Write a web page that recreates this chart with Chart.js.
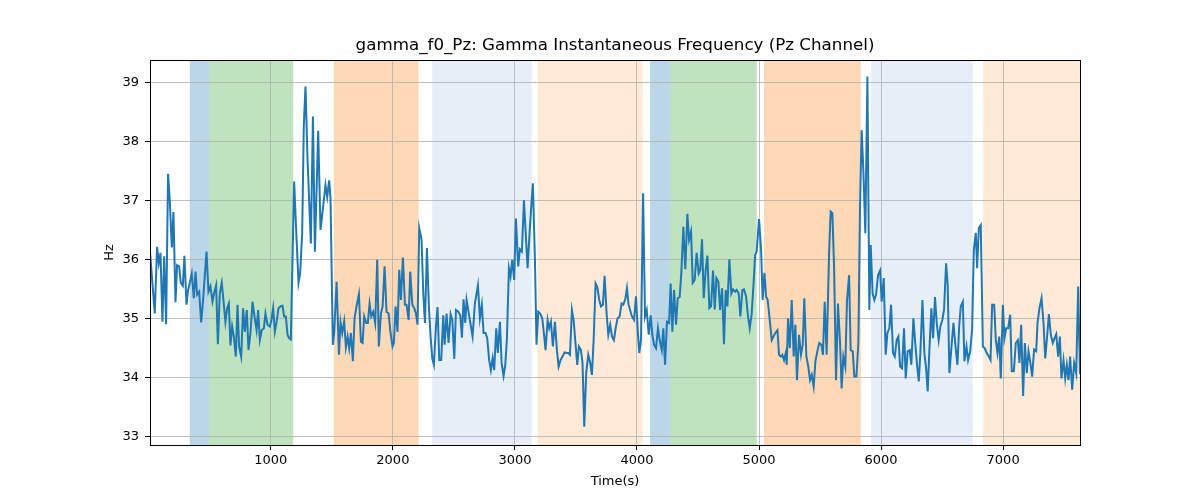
<!DOCTYPE html>
<html>
<head>
<meta charset="utf-8">
<script src="https://cdn.jsdelivr.net/npm/chart.js@4.4.0/dist/chart.umd.min.js"></script>
<style>
  html, body { margin: 0; padding: 0; background: #fff; }
  #wrap { width: 1200px; height: 500px; }
</style>
</head>
<body>
<div id="wrap"><canvas id="freqchart" width="1200" height="500"></canvas></div>
<script>
// time stamps (s) and instantaneous gamma frequency (Hz)
var timeSec = [
  10, 49, 68, 82, 96, 112, 126, 142, 158, 172, 189, 202, 219, 232, 249, 262, 279, 292, 309, 322,
  336, 352, 369, 383, 396, 413, 429, 445, 473, 489, 505, 522, 538, 552, 566, 582, 598, 615, 628, 642,
  656, 669, 683, 697, 713, 727, 740, 757, 773, 787, 803, 817, 833, 850, 866, 883, 896, 910, 926, 943,
  956, 973, 992, 1005, 1019, 1033, 1046, 1063, 1079, 1096, 1109, 1123, 1137, 1150, 1164, 1191, 1210, 1227, 1240, 1257,
  1270, 1284, 1301, 1328, 1345, 1361, 1388, 1407, 1429, 1448, 1462, 1478, 1489, 1508, 1519, 1539, 1558, 1571, 1585, 1601,
  1615, 1629, 1642, 1656, 1672, 1686, 1702, 1722, 1738, 1752, 1765, 1782, 1795, 1809, 1823, 1839, 1855, 1872, 1885, 1902,
  1916, 1932, 1948, 1965, 1981, 1997, 2008, 2022, 2038, 2052, 2066, 2082, 2099, 2112, 2129, 2142, 2159, 2175, 2189, 2202,
  2216, 2235, 2249, 2263, 2279, 2295, 2309, 2323, 2336, 2353, 2366, 2380, 2396, 2413, 2424, 2440, 2456, 2473, 2487, 2503,
  2517, 2536, 2552, 2566, 2579, 2593, 2604, 2626, 2653, 2672, 2697, 2713, 2729, 2743, 2759, 2773, 2789, 2803, 2817, 2830,
  2847, 2860, 2877, 2891, 2907, 2921, 2934, 2951, 2964, 2978, 2994, 3008, 3027, 3041, 3057, 3074, 3090, 3104, 3120, 3134,
  3147, 3164, 3177, 3191, 3207, 3224, 3237, 3251, 3268, 3281, 3295, 3311, 3328, 3344, 3358, 3374, 3390, 3407, 3423, 3437,
  3451, 3467, 3481, 3494, 3511, 3524, 3541, 3554, 3568, 3584, 3601, 3617, 3631, 3645, 3661, 3675, 3691, 3705, 3721, 3735,
  3751, 3765, 3781, 3795, 3811, 3825, 3841, 3858, 3874, 3888, 3904, 3918, 3931, 3959, 3976, 3992, 4006, 4019, 4033, 4050,
  4066, 4080, 4096, 4112, 4126, 4140, 4156, 4172, 4186, 4203, 4216, 4230, 4246, 4263, 4276, 4290, 4304, 4320, 4334, 4350,
  4364, 4380, 4396, 4413, 4427, 4443, 4457, 4473, 4489, 4506, 4519, 4533, 4547, 4563, 4577, 4593, 4607, 4623, 4637, 4651,
  4667, 4681, 4697, 4713, 4727, 4741, 4757, 4773, 4787, 4804, 4817, 4834, 4847, 4864, 4877, 4894, 4910, 4924, 4940, 4954,
  4968, 4981, 5000, 5017, 5030, 5044, 5058, 5071, 5088, 5104, 5118, 5134, 5151, 5164, 5178, 5191, 5205, 5219, 5227, 5238,
  5252, 5268, 5284, 5298, 5311, 5328, 5344, 5358, 5371, 5388, 5404, 5418, 5432, 5448, 5462, 5478, 5494, 5511, 5524, 5538,
  5554, 5574, 5587, 5601, 5615, 5631, 5647, 5664, 5677, 5691, 5707, 5721, 5738, 5751, 5768, 5781, 5798, 5814, 5828, 5841,
  5855, 5871, 5888, 5904, 5915, 5931, 5945, 5959, 5975, 5992, 6005, 6022, 6038, 6052, 6068, 6082, 6098, 6112, 6128, 6142,
  6156, 6172, 6188, 6202, 6218, 6235, 6248, 6265, 6281, 6295, 6309, 6322, 6339, 6355, 6369, 6382, 6396, 6412, 6426, 6442,
  6456, 6472, 6486, 6502, 6516, 6533, 6546, 6560, 6577, 6593, 6610, 6626, 6640, 6653, 6670, 6683, 6700, 6713, 6730, 6746,
  6760, 6776, 6787, 6801, 6817, 6834, 6850, 6866, 6883, 6897, 6910, 6927, 6940, 6954, 6968, 6981, 6998, 7011, 7025, 7041,
  7058, 7071, 7088, 7104, 7121, 7134, 7148, 7164, 7178, 7194, 7208, 7222, 7238, 7254, 7271, 7282, 7298, 7315, 7331, 7345,
  7358, 7375, 7391, 7407, 7421, 7435, 7451, 7465, 7478, 7495, 7509, 7522, 7536, 7549, 7566, 7582, 7599, 7615, 7630
];
var freqHz = [
  36.13, 35.08, 36.21, 35.93, 36.11, 34.94, 36.05, 34.90, 37.45, 37.00, 36.20, 36.80, 35.27, 35.90, 35.88, 35.60, 35.55, 36.06, 35.23, 35.48,
  35.60, 35.76, 35.34, 35.79, 35.40, 35.45, 34.93, 35.31, 36.13, 35.45, 35.54, 35.28, 35.45, 35.56, 34.56, 35.42, 35.60, 35.23, 34.94, 35.17,
  35.25, 34.54, 34.86, 34.69, 34.35, 35.23, 34.52, 34.35, 35.17, 34.77, 35.14, 34.46, 34.75, 35.28, 35.03, 34.80, 35.14, 34.63, 34.80, 34.83,
  35.08, 34.89, 34.86, 34.97, 35.17, 34.77, 34.92, 35.17, 35.20, 35.21, 35.03, 35.03, 34.72, 34.66, 34.64, 37.32, 36.38, 35.60, 35.76, 36.44,
  38.25, 38.93, 37.68, 36.27, 38.42, 36.13, 38.18, 36.50, 36.90, 37.26, 37.06, 37.34, 37.03, 34.55, 34.75, 35.62, 34.38, 34.93, 34.75, 34.95,
  34.51, 34.69, 34.49, 34.75, 34.27, 35.00, 35.20, 35.41, 34.60, 34.58, 35.03, 34.92, 34.92, 35.25, 35.03, 35.11, 34.92, 35.99, 34.52, 35.08,
  35.20, 35.88, 35.11, 35.08, 34.75, 34.52, 34.58, 35.20, 34.77, 35.82, 35.31, 36.03, 35.23, 35.23, 34.97, 35.79, 35.23, 35.17, 35.08, 34.89,
  36.53, 36.33, 35.42, 34.92, 36.19, 35.20, 34.69, 34.32, 34.21, 34.86, 35.19, 34.29, 34.29, 35.05, 34.55, 35.08, 34.58, 35.07, 34.97, 34.31,
  35.14, 35.11, 35.05, 34.67, 35.32, 34.92, 35.31, 35.03, 34.69, 35.25, 35.56, 35.00, 35.23, 34.75, 34.75, 34.66, 34.29, 34.12, 34.32, 34.12,
  34.83, 34.41, 34.94, 34.24, 34.02, 34.21, 34.63, 35.85, 35.71, 35.99, 35.65, 36.69, 35.88, 36.17, 36.13, 37.00, 36.38, 35.85, 36.44, 36.90,
  37.29, 35.99, 34.55, 35.11, 35.08, 35.00, 34.75, 34.46, 34.97, 34.83, 34.94, 34.52, 34.94, 34.46, 34.18, 34.29, 34.35, 34.42, 34.41, 34.41,
  34.38, 35.14, 34.97, 34.63, 34.21, 34.52, 34.46, 34.24, 33.16, 34.07, 34.38, 34.24, 34.04, 34.63, 35.59, 35.53, 35.31, 35.20, 35.23, 35.72,
  35.08, 34.72, 34.89, 34.69, 34.63, 34.83, 35.00, 35.03, 35.25, 35.23, 35.32, 35.51, 35.23, 35.03, 34.97, 35.37, 34.80, 34.41, 34.63, 37.12,
  35.03, 35.14, 34.72, 35.05, 34.72, 34.55, 34.49, 34.83, 34.63, 34.46, 34.83, 34.21, 34.94, 34.92, 35.59, 34.77, 35.48, 34.89, 35.34, 35.36,
  35.79, 36.55, 35.83, 36.77, 36.33, 36.47, 35.60, 35.65, 36.11, 35.76, 35.82, 36.34, 35.34, 35.82, 36.06, 35.17, 35.20, 35.81, 35.15, 35.68,
  35.62, 35.14, 35.51, 34.56, 35.48, 35.20, 36.00, 35.42, 35.49, 35.45, 35.48, 35.42, 35.03, 35.48, 35.49, 35.37, 35.03, 34.83, 35.08, 35.54,
  36.07, 36.13, 36.68, 36.16, 35.31, 35.77, 35.37, 35.31, 34.97, 34.63, 34.69, 34.75, 34.80, 34.38, 34.35, 34.38, 34.29, 34.41, 34.21, 35.00,
  34.49, 35.31, 34.35, 34.89, 33.95, 34.72, 34.38, 34.55, 35.34, 34.35, 34.18, 33.95, 34.04, 33.84, 34.27, 34.44, 34.58, 34.55, 34.38, 35.28,
  34.38, 36.10, 36.81, 36.78, 35.88, 33.95, 35.25, 34.58, 33.81, 34.35, 34.18, 35.31, 35.73, 34.46, 34.44, 34.01, 34.01, 34.58, 36.95, 38.19,
  37.51, 36.44, 39.10, 35.14, 36.24, 35.42, 35.31, 35.40, 35.73, 35.81, 35.28, 35.68, 34.38, 34.75, 34.83, 35.23, 34.41, 34.35, 34.63, 34.69,
  34.18, 34.15, 34.83, 33.98, 34.44, 34.46, 34.21, 35.00, 34.55, 34.21, 33.93, 34.41, 35.31, 34.41, 34.15, 33.76, 34.46, 35.17, 34.66, 35.36,
  34.92, 34.63, 34.86, 34.97, 35.14, 35.93, 35.56, 34.07, 34.52, 34.92, 34.52, 34.21, 34.86, 35.20, 35.28, 34.27, 34.52, 34.29, 34.44, 34.80,
  36.16, 36.45, 35.85, 36.53, 36.58, 34.52, 34.49, 34.41, 34.35, 34.29, 35.23, 35.23, 34.63, 34.41, 34.69, 33.98, 35.23, 34.66, 34.83, 34.83,
  35.06, 34.10, 34.10, 34.58, 34.63, 34.24, 34.89, 33.68, 34.58, 34.07, 34.44, 34.27, 34.01, 34.47, 34.44, 34.92, 35.17, 35.34, 34.92, 34.32,
  34.63, 35.07, 34.72, 34.58, 34.66, 34.73, 34.35, 34.69, 33.98, 34.29, 33.98, 34.21, 33.95, 34.35, 33.79, 34.24, 34.07, 35.54, 34.05
];

// shaded intervals (s) and their kind
var spanStart = [336, 494, 1516, 2322, 3186, 4107, 4273, 5041, 5918, 6836];
var spanEnd   = [494, 1183, 2210, 3137, 4047, 4273, 4981, 5834, 6751, 7630];
var spanKind  = ['blue', 'green', 'orange', 'paleblue', 'paleorange', 'blue', 'green', 'orange', 'paleblue', 'paleorange'];

var xTicks = [1000, 2000, 3000, 4000, 5000, 6000, 7000];
var yTicks = [33, 34, 35, 36, 37, 38, 39];
var titleText = 'gamma_f0_Pz: Gamma Instantaneous Frequency (Pz Channel)';

var spanColors = {
  blue: 'rgba(31, 119, 180, 0.3)',
  green: 'rgba(44, 160, 44, 0.3)',
  orange: 'rgba(255, 127, 14, 0.3)',
  paleblue: 'rgba(31, 100, 190, 0.11)',
  paleorange: 'rgba(255, 127, 14, 0.16)'
};

var points = timeSec.map(function (t, i) { return {x: t, y: freqHz[i]}; });

var spanPlugin = {
  id: 'spans',
  beforeDraw: function (chart) {
    var ctx = chart.ctx, area = chart.chartArea, xs = chart.scales.x;
    ctx.save();
    for (var i = 0; i < spanStart.length; i++) {
      var a = Math.max(xs.getPixelForValue(spanStart[i]), area.left);
      var b = Math.min(xs.getPixelForValue(spanEnd[i]), area.right);
      ctx.fillStyle = spanColors[spanKind[i]];
      ctx.fillRect(a, area.top, b - a, area.bottom - area.top);
    }
    ctx.restore();
  },
  afterDraw: function (chart) {
    var ctx = chart.ctx, area = chart.chartArea;
    ctx.save();
    ctx.strokeStyle = '#000';
    ctx.lineWidth = 1;
    ctx.strokeRect(Math.round(area.left) + 0.5, Math.round(area.top) + 0.5,
                   Math.round(area.right - area.left), Math.round(area.bottom - area.top));
    // title centred over the plot area, like matplotlib
    ctx.fillStyle = '#000';
    ctx.font = '16.7px "DejaVu Sans"';
    ctx.textAlign = 'center';
    ctx.textBaseline = 'middle';
    ctx.fillText(titleText, (area.left + area.right) / 2, 46);
    ctx.restore();
  }
};

var font = {family: 'DejaVu Sans', size: 13};
var plainNumber = function (v) { return String(v); };

var config = {
  type: 'line',
  data: {
    datasets: [{
      data: points,
      borderColor: '#1f77b4',
      borderWidth: 2,
      pointRadius: 0,
      tension: 0,
      fill: false
    }]
  },
  options: {
    responsive: false,
    animation: false,
    layout: {padding: {left: 98, right: 120, top: 60, bottom: 7}},
    plugins: {
      legend: {display: false},
      tooltip: {enabled: false},
      title: {display: false}
    },
    scales: {
      x: {
        type: 'linear',
        min: 10,
        max: 7630,
        afterBuildTicks: function (s) { s.ticks = xTicks.map(function (v) { return {value: v}; }); },
        afterFit: function (s) { s.height = 48; },
        ticks: {color: '#000', font: font, padding: 3, maxRotation: 0, autoSkip: false, callback: plainNumber},
        grid: {color: '#b0b0b0', lineWidth: 0.8, tickLength: 5, tickColor: '#000', tickWidth: 1},
        border: {display: false},
        title: {display: true, text: 'Time(s)', color: '#000', font: font, padding: {top: 4, bottom: 4}}
      },
      y: {
        min: 32.85,
        max: 39.38,
        afterBuildTicks: function (s) { s.ticks = yTicks.map(function (v) { return {value: v}; }); },
        afterFit: function (s) { s.width = 52; },
        ticks: {color: '#000', font: font, padding: 6, autoSkip: false, callback: plainNumber},
        grid: {color: '#b0b0b0', lineWidth: 0.8, tickLength: 5, tickColor: '#000', tickWidth: 1},
        border: {display: false},
        title: {display: true, text: 'Hz', color: '#000', font: font, padding: {top: 4, bottom: 4}}
      }
    }
  },
  plugins: [spanPlugin]
};

var chart = new Chart(document.getElementById('freqchart'), config);
</script>
</body>
</html>
